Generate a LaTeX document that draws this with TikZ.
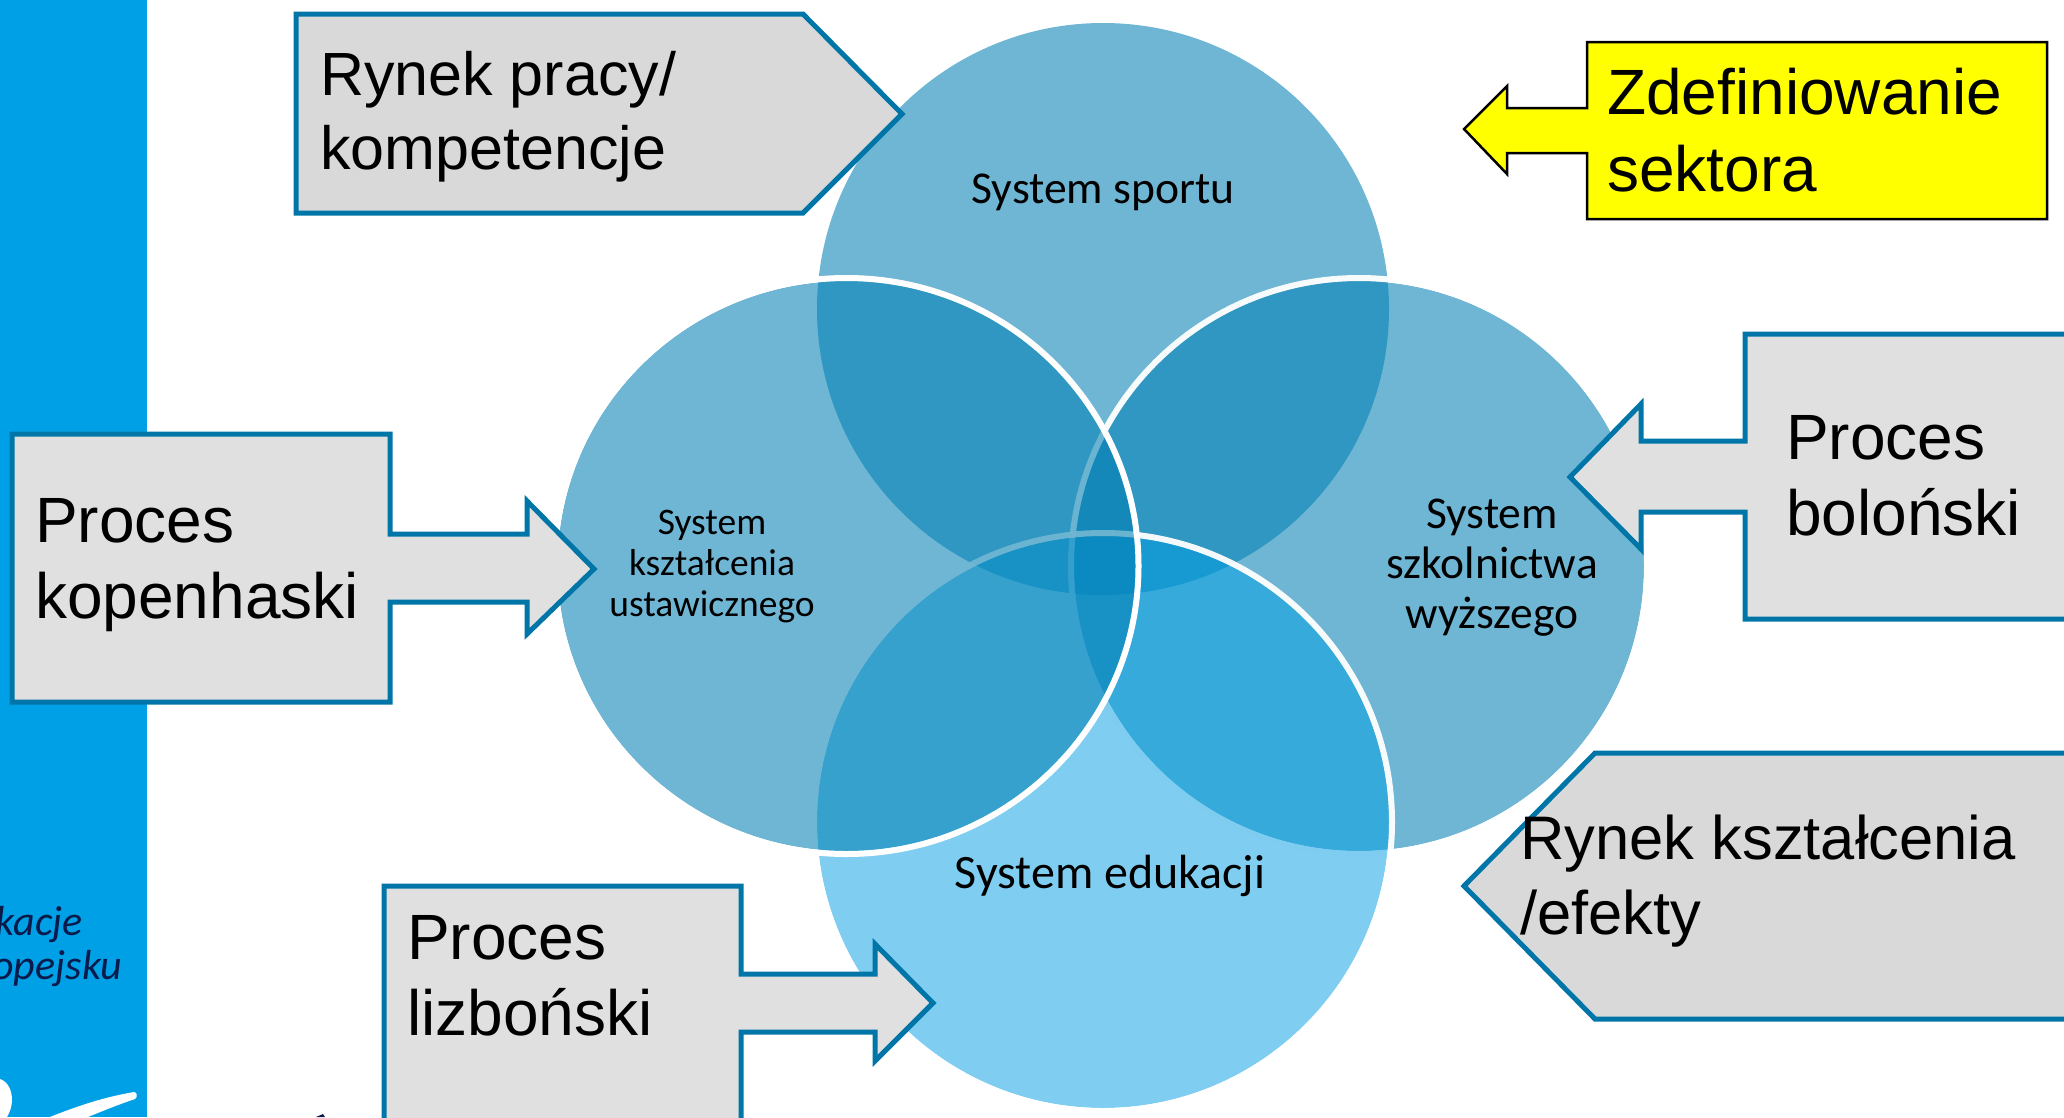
\documentclass[tikz,border=0pt]{standalone}
\usepackage{fontspec}
\setmainfont{Liberation Sans}
\newfontfamily\calibri{Carlito}
\definecolor{sidebar}{HTML}{00A0E6}
\definecolor{vennblue}{HTML}{007FB3}
\definecolor{vennlight}{HTML}{009DE5}
\definecolor{edgeblue}{HTML}{0076A8}
\definecolor{navy}{HTML}{0A1A4A}
\definecolor{signyellow}{HTML}{FFFF00}
\tikzset{
  venn/.style={fill=vennblue,fill opacity=0.57},
  vennline/.style={draw=white,line width=6pt},
  callout/.style={fill=#1,draw=edgeblue,line width=5pt,line join=miter},
  bigtext/.style 2 args={align=left,inner sep=0pt,anchor=west,font=\fontsize{#1}{#2}\selectfont},
  smalltext/.style 2 args={align=center,inner sep=0pt,font=\calibri\fontsize{#1}{#2}\selectfont},
  bartext/.style={anchor=base east,inner sep=0pt,text=navy,font=\calibri\itshape\fontsize{42}{42}\selectfont}
}
\begin{document}
\begin{tikzpicture}[x=1pt,y=-1pt]
\useasboundingbox (0,0) rectangle (2064,1117);
\clip (0,0) rectangle (2064,1117);
% side bar
\fill[sidebar] (0,0) rectangle (147,1117);
\node[bartext] (bara) at (83,935) {kacje};
\node[bartext] (barb) at (122,979) {opejsku};
\fill[white] (0,1079) .. controls (9,1082) and (12,1092) .. (12,1100) .. controls (12,1106) and (10,1112) .. (7,1117) -- (0,1117) -- cycle;
\fill[white] (134,1092) .. controls (105,1097) and (80,1105) .. (50,1117) -- (88,1117) .. controls (105,1110) and (120,1104) .. (135,1099) .. controls (138,1097) and (137,1092) .. (134,1092) -- cycle;
\fill[navy] (316,1117) -- (323,1114) -- (325,1117) -- cycle;
% circles
\fill[venn] (1103,309) circle (286);
\fill[venn] (1359,566) circle (285);
\draw[vennline,opacity=0.95] (1359,566) circle (288);
\fill[venn,fill=vennlight,fill opacity=0.5] (1103,822) circle (286);
\draw[vennline,opacity=0.95] (1103,822) circle (289);
\fill[venn] (846.5,566) ellipse (289 and 285);
\draw[vennline] (846.5,566) ellipse (292 and 288);
\node[smalltext={45.6}{50}] (sport) at (1103,192) {System sportu};
\node[smalltext={48}{50}] (edu) at (1110,876) {System edukacji};
\node[smalltext={37.5}{41}] (ustaw) at (712,567) {System\\kształcenia\\ustawicznego};
\node[smalltext={45.5}{50}] (wyz) at (1492,568) {System\\szkolnictwa\\wyższego};
% callouts
\draw[callout=black!15] (296,14) -- (803,14) -- (902,114) -- (803,213) -- (296,213) -- cycle;
\node[bigtext={61}{74}] (rynekp) at (320,117) {Rynek pracy/\\kompetencje};
\draw[fill=signyellow,draw=black,line width=2.5pt] (1587,42) -- (2047,42) -- (2047,219) -- (1587,219) -- (1587,153) -- (1507,153) -- (1507,174) -- (1464,129) -- (1507,86) -- (1507,108) -- (1587,108) -- cycle;
\node[bigtext={64}{77}] (zdef) at (1607,130) {Zdefiniowanie\\sektora};
\draw[callout=black!12] (1745,334) -- (2080,334) -- (2080,619) -- (1745,619) -- (1745,512) -- (1641,512) -- (1641,549) -- (1570,477) -- (1641,404) -- (1641,441) -- (1745,441) -- cycle;
\node[bigtext={64}{76}] (bolon) at (1786,476) {Proces\\boloński};
\draw[callout=black!12] (12,434) -- (390,434) -- (390,534) -- (527,534) -- (527,501) -- (594,569) -- (527,634) -- (527,602) -- (390,602) -- (390,702) -- (12,702) -- cycle;
\node[bigtext={64}{76}] (kopen) at (35,565) {Proces\\kopenhaski};
\draw[callout=black!12] (384,886) -- (741,886) -- (741,974) -- (875,974) -- (875,944) -- (933,1003) -- (875,1061) -- (875,1032) -- (741,1032) -- (741,1130) -- (384,1130) -- cycle;
\node[bigtext={64}{76}] (lizb) at (407,976) {Proces\\lizboński};
\draw[callout=black!15] (1464,886) -- (1595,753) -- (2080,753) -- (2080,1019) -- (1595,1019) -- cycle;
\node[bigtext={61.5}{75}] (rynekk) at (1520,881) {Rynek kształcenia\\/efekty};
\end{tikzpicture}
\end{document}
